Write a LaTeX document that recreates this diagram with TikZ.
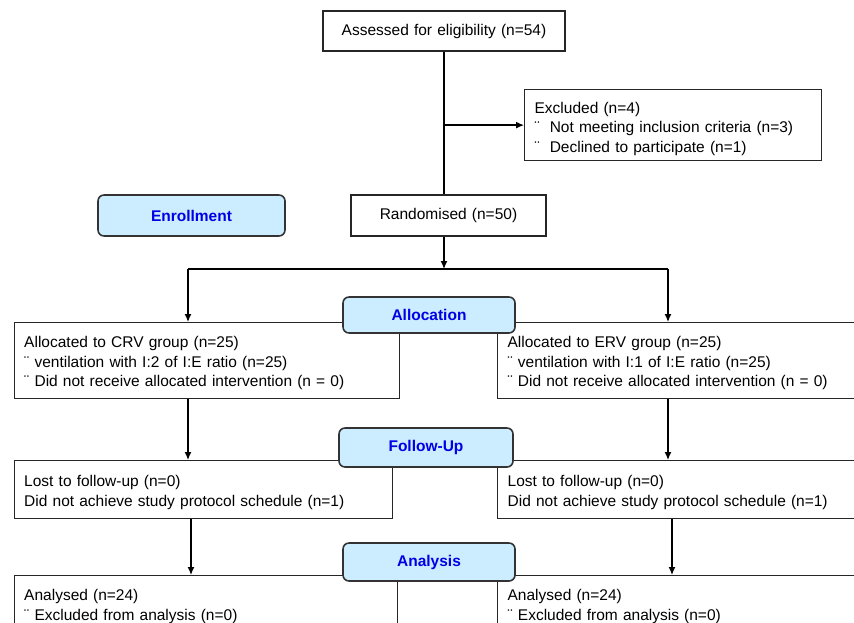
\documentclass[tikz,border=0pt]{standalone}
\usepackage{fontspec}
\setmainfont{Liberation Sans}
\usetikzlibrary{arrows.meta}
\definecolor{stagefill}{RGB}{204,236,255}
\definecolor{stagetext}{RGB}{0,0,230}
\newcommand{\topgap}[1]{\rule{0pt}{#1}}
\tikzset{
    infobox/.style={draw=black!85,rectangle,fill=white,inner xsep=10pt,inner ysep=2pt,align=left,line width=0.45mm,font=\fontsize{15.5}{19.5}\selectfont},
    stagebox/.style={draw=black!80,rectangle,rounded corners=6pt,fill=stagefill,text=stagetext,line width=0.55mm,font=\fontsize{15.5}{18}\selectfont\bfseries},
    arr/.style={-{Latex[length=8pt,width=7pt]},line width=0.45mm},
}

\begin{document}
\begin{tikzpicture}[x=1pt,y=-1pt]
            \useasboundingbox (0,0) rectangle (854,623);
            \clip (0,0) rectangle (854,623);

            % boxes
            \node[infobox,align=center,text width=222pt,minimum height=40pt] (assess) at (444,31) {Assessed for eligibility (n=54)};
            \node[infobox,anchor=north west,text width=277pt,minimum height=71pt] (excl) at (524,89) {\topgap{18.5pt}Excluded (n=4)\\ ¨\hspace{10pt}Not meeting inclusion criteria (n=3)\\ ¨\hspace{10pt}Declined to participate (n=1)};
            \node[infobox,align=center,text width=175pt,minimum height=41pt] (rand) at (448.5,215.5) {Randomised (n=50)};

            \node[infobox,anchor=north west,text width=365pt,minimum height=76pt] (crv) at (13.6,322) {\topgap{16pt}Allocated to CRV group (n=25)\\ ¨ ventilation with I:2 of I:E ratio (n=25)\\ ¨ Did not receive allocated intervention (n = 0)};
            \node[infobox,anchor=north west,text width=365pt,minimum height=76pt] (erv) at (497,322) {\topgap{16pt}Allocated to ERV group (n=25)\\ ¨ ventilation with I:1 of I:E ratio (n=25)\\ ¨ Did not receive allocated intervention (n = 0)};

            \node[infobox,anchor=north west,text width=358pt,minimum height=58pt] (lostL) at (13.6,460) {\topgap{17pt}Lost to follow-up (n=0)\\ Did not achieve study protocol schedule (n=1)};
            \node[infobox,anchor=north west,text width=365pt,minimum height=58pt] (lostR) at (497,460) {\topgap{17pt}Lost to follow-up (n=0)\\ Did not achieve study protocol schedule (n=1)};

            \node[infobox,anchor=north west,text width=363pt,minimum height=58pt] (anaL) at (13.6,575) {\topgap{14.5pt}Analysed (n=24)\\ ¨ Excluded from analysis (n=0)};
            \node[infobox,anchor=north west,text width=365pt,minimum height=58pt] (anaR) at (497,575) {\topgap{14.5pt}Analysed (n=24)\\ ¨ Excluded from analysis (n=0)};

            % stage labels
            \node[stagebox,minimum width=187pt,minimum height=41pt] (enrol) at (191.5,215.5) {Enrollment};
            \node[stagebox,minimum width=172pt,minimum height=36pt] (alloc) at (429,315) {Allocation};
            \node[stagebox,minimum width=174pt,minimum height=39pt] (follow) at (426,447.5) {Follow-Up};
            \node[stagebox,minimum width=172pt,minimum height=38pt] (analysis) at (429,562) {Analysis};

            % connectors
            \coordinate (split) at (444,269);
            \coordinate (splitL) at (188,269);
            \coordinate (splitR) at (668,269);

            \draw[line width=0.45mm] (assess.south) -- (assess.south |- rand.north);
            \draw[arr] (assess.south |- excl.west) -- (excl.west);
            \draw[arr] (assess.south |- rand.south) -- (split);
            \draw[line width=0.45mm] (splitL) -- (splitR);

            \draw[arr] (splitL) -- (splitL |- crv.north);
            \draw[arr] (splitR) -- (splitR |- erv.north);
            \draw[arr] (splitL |- crv.south) -- (splitL |- lostL.north);
            \draw[arr] (splitR |- erv.south) -- (splitR |- lostR.north);
            \draw[arr] ([xshift=3pt]splitL |- lostL.south) -- ([xshift=3pt]splitL |- anaL.north);
            \draw[arr] ([xshift=4pt]splitR |- lostR.south) -- ([xshift=4pt]splitR |- anaR.north);
\end{tikzpicture}
\end{document}
